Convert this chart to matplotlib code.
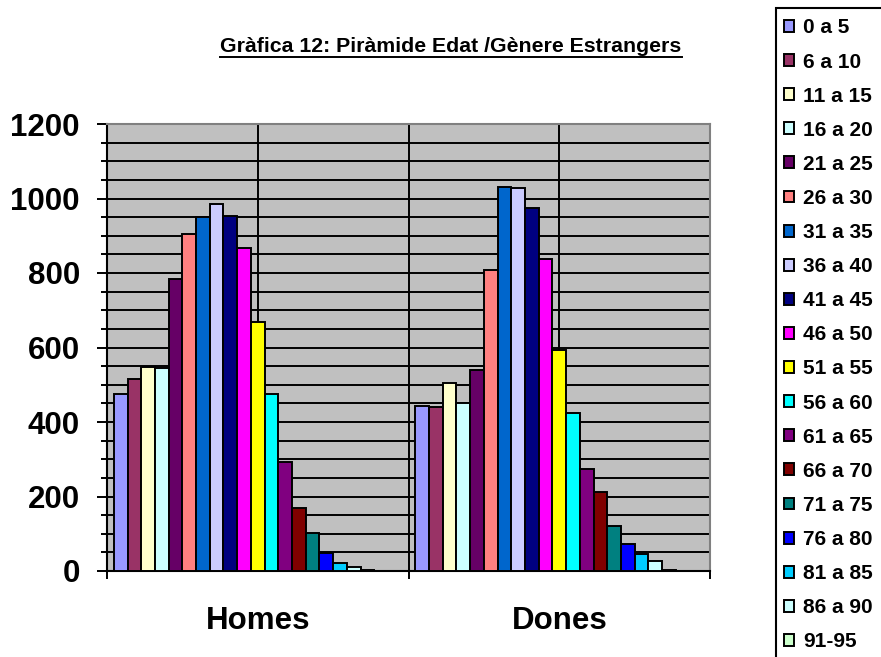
import matplotlib
matplotlib.use("Agg")
import matplotlib.pyplot as plt
from matplotlib.lines import Line2D
from matplotlib.patches import Rectangle
from matplotlib.ticker import MultipleLocator, FixedLocator, NullFormatter
import numpy as np

plt.rcParams['font.family'] = ['Liberation Sans', 'DejaVu Sans']
plt.rcParams['font.weight'] = 'bold'

categories = ["Homes", "Dones"]
age_groups = ["0 a 5", "6 a 10", "11 a 15", "16 a 20", "21 a 25", "26 a 30",
              "31 a 35", "36 a 40", "41 a 45", "46 a 50", "51 a 55", "56 a 60",
              "61 a 65", "66 a 70", "71 a 75", "76 a 80", "81 a 85", "86 a 90", "91-95"]
homes = [475, 515, 548, 546, 783, 904, 949, 985, 954, 866, 669, 474, 292, 170, 103, 47, 21, 12, 4]
dones = [443, 441, 504, 450, 540, 808, 1030, 1027, 974, 837, 593, 423, 274, 211, 121, 72, 45, 28, 3]
colors = ["#9999FF", "#993366", "#FFFFCC", "#CCFFFF", "#660066", "#FF8080",
          "#0066CC", "#CCCCFF", "#000080", "#FF00FF", "#FFFF00", "#00FFFF",
          "#800080", "#800000", "#008080", "#0000FF", "#00CCFF", "#CCFFFF", "#CCFFCC"]
title = "Gràfica 12: Piràmide Edat /Gènere Estrangers"

W, H = 881, 657
fig = plt.figure(figsize=(W / 100, H / 100), dpi=100)
fig.patch.set_facecolor("white")

x0, x1, ytop, ybot = 107, 710, 124, 571
ax = fig.add_axes([x0 / W, 1 - ybot / H, (x1 - x0) / W, (ybot - ytop) / H])
ax.set_facecolor("#C0C0C0")

n_slots = 21
w = 1.0 / (n_slots + 1)
xc = np.arange(len(categories))
handles = []
for i, (lab, c) in enumerate(zip(age_groups, colors)):
    vals = [homes[i], dones[i]]
    b = ax.bar(xc + (i - (n_slots - 1) / 2) * w, vals, width=w, color=c,
               edgecolor="black", linewidth=1.4, label=lab, zorder=3)
    handles.append(b)

ax.set_xlim(-0.5, 1.5)
ax.set_ylim(0, 1200)

# y axis
ax.yaxis.set_major_locator(MultipleLocator(200))
ax.yaxis.set_minor_locator(MultipleLocator(50))
ax.tick_params(axis="y", which="major", length=7.5, width=1.4, pad=12,
               labelsize=22.5, direction="out", color="black")
ax.tick_params(axis="y", which="minor", length=4, width=1.4, direction="out")
for t in ax.get_yticklabels():
    t.set_fontweight("bold")
ax.grid(axis="y", which="both", color="black", linewidth=1.4, zorder=1)

# x axis: ticks at category boundaries, labels at centers
ax.xaxis.set_major_locator(FixedLocator([-0.5, 0.5, 1.5]))
ax.xaxis.set_major_formatter(NullFormatter())
ax.xaxis.set_minor_locator(FixedLocator(list(xc)))
ax.set_xticklabels(categories, minor=True, fontsize=22.5, fontweight="bold")
ax.tick_params(axis="x", which="major", length=6, width=1.4, direction="out")
ax.tick_params(axis="x", which="minor", length=0, pad=25)
for xv in [0, 0.5, 1]:
    ax.axvline(xv, color="black", linewidth=1.4, zorder=1)

for s in ["left", "bottom"]:
    ax.spines[s].set_color("black")
    ax.spines[s].set_linewidth(1.5)
for s in ["top", "right"]:
    ax.spines[s].set_color("#808080")
    ax.spines[s].set_linewidth(1.5)

# legend box (extends beyond right and bottom edges, as in the original)
fig.add_artist(Rectangle((776 / W, -0.05), 0.2, 1 - 8 / H + 0.05,
                         transform=fig.transFigure, facecolor="white",
                         edgecolor="black", linewidth=1.5, zorder=0))

fs = 15
leg = fig.legend(handles=handles, labels=age_groups, loc="upper left",
                 bbox_to_anchor=(784 / W, 1 - 17 / H), bbox_transform=fig.transFigure,
                 prop={"weight": "bold", "size": fs},
                 frameon=False, borderpad=0,
                 handlelength=0.5, handleheight=0.5, handletextpad=0.42,
                 labelspacing=0.725, borderaxespad=0)
for p in leg.get_patches():
    p.set_linewidth(1.4)

fig.canvas.draw()
r = fig.canvas.get_renderer()
pb = leg.get_patches()[0].get_window_extent(r)
cy0 = H - (pb.y0 + pb.y1) / 2
dx = 784 - pb.x0
dy = 26 - cy0
leg.set_bbox_to_anchor((784 / W + dx / W, 1 - 17 / H - dy / H), transform=fig.transFigure)

# title with underline
tt = fig.text(451 / W, 1 - 46 / H, title, ha="center", va="center",
              fontsize=15.3, fontweight="bold")
fig.canvas.draw()
bb = tt.get_window_extent(fig.canvas.get_renderer())
uy = bb.y0 - 1
fig.add_artist(Line2D([bb.x0 / W, bb.x1 / W], [uy / H, uy / H],
                      transform=fig.transFigure, color="black", linewidth=1.4))

fig.savefig("out.png", dpi=100)
